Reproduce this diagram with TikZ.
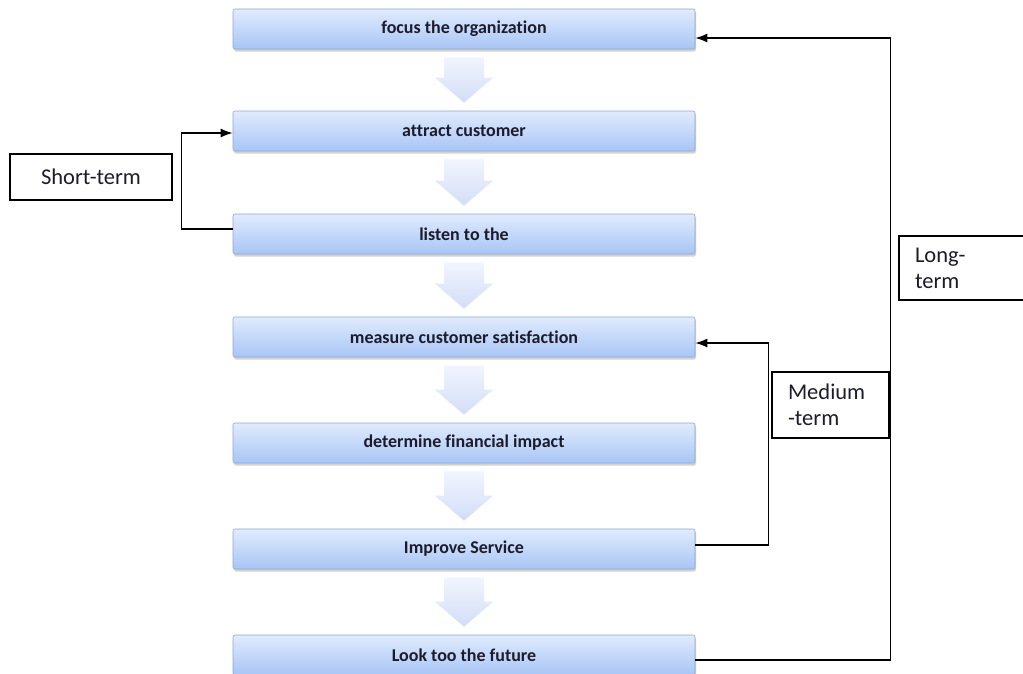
\documentclass[tikz,border=0pt]{standalone}
\usepackage{fontspec}
\setmainfont[Ligatures=NoCommon]{Carlito}
\usetikzlibrary{arrows.meta,calc,shadows}

\definecolor{boxtop}{HTML}{E0EBFD}
\definecolor{boxbot}{HTML}{A8C5F5}
\definecolor{boxline}{HTML}{8EA8D0}
\definecolor{flowtop}{HTML}{F1F5FE}
\definecolor{flowbot}{HTML}{D2DDF7}
\definecolor{ink}{HTML}{1C1C2C}

\begin{document}
\begin{tikzpicture}[x=1pt,y=-1pt,
	stage/.style={rectangle,rounded corners=2pt,draw=boxline,line width=0.6pt,
		top color=boxtop,bottom color=boxbot,minimum width=462pt,minimum height=40pt,
		drop shadow={shadow xshift=1pt,shadow yshift=-2.5pt,opacity=0.35},
		text=ink,font=\fontsize{18}{20}\selectfont\bfseries},
	term/.style={rectangle,draw=black,line width=1.2pt,text=ink,align=left,
		font=\fontsize{22.5}{26}\selectfont},
	link/.style={draw=black,line width=1.4pt,-{Latex[length=12pt,width=9pt]}}]
	\clip (0,0) rectangle (1023,673);
	\fill[white] (0,0) rectangle (1023,673);

	%main column
	\node[stage] (focus)   at (464,29)  {focus the organization};
	\node[stage] (attract) at (464,131) {attract customer};
	\node[stage] (listen)  at (464,234) {listen to the};
	\node[stage] (measure) at (464,337) {measure customer satisfaction};
	\node[stage] (impact)  at (464,443) {determine financial impact};
	\node[stage] (improve) at (464,549) {Improve Service};
	\node[stage] (future)  at (464,655) {Look too the future};

	%block arrows between stages
	\foreach \a/\b in {focus/attract,attract/listen,listen/measure,measure/impact,impact/improve,improve/future}
		\path[top color=flowtop,bottom color=flowbot]
			($(\a.south)+(-20,8)$) -- ($(\a.south)+(20,8)$) -- ($(\b.north)+(20,-33)$)
			-- ($(\b.north)+(29,-33)$) -- ($(\b.north)+(0,-8)$) -- ($(\b.north)+(-29,-33)$)
			-- ($(\b.north)+(-20,-33)$) -- cycle;

	%labels
	\node[term,align=center,minimum width=162pt,minimum height=46pt] (short) at (91,177) {Short-term};
	\node[term,text width=85pt,inner xsep=16pt,minimum height=66pt] (medium) at (830.5,405) {Medium\\-term};
	\node[term,text width=108pt,inner xsep=16pt,minimum height=64pt] (long) at (969,268) {Long-\\term};

	%feedback loops
	\draw[link] ([yshift=5pt]listen.west) -- ++(-51,0) |- ([yshift=-2pt]attract.west);	%short
	\draw[link] ([yshift=4pt]improve.east) -- ++(73,0) |- ([yshift=-6pt]measure.east);	%medium
	\draw[link] ([yshift=-5pt]future.east) -- ++(195,0) |- ([yshift=-9pt]focus.east);	%long
\end{tikzpicture}
\end{document}
